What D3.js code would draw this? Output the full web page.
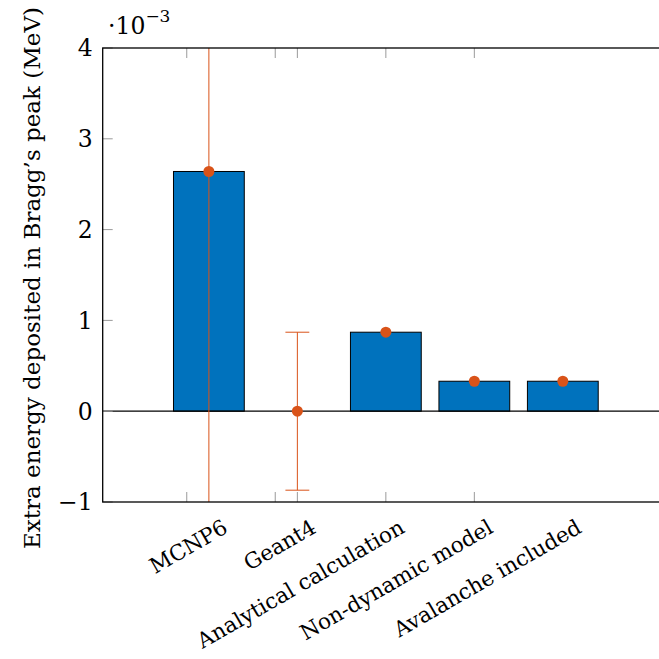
<!DOCTYPE html>
<html>
<head>
<meta charset="utf-8">
<script src="https://cdn.jsdelivr.net/npm/d3@7"></script>
<style>
  html, body { margin: 0; padding: 0; background: #fff; }
</style>
</head>
<body>
<svg id="chart" width="659" height="659"></svg>
<script>
// values are in units of 1e-3 MeV
var categories = ["MCNP6", "Geant4", "Analytical calculation", "Non-dynamic model", "Avalanche included"];
var values = [2.64, 0, 0.87, 0.33, 0.33];
var errors = [4.6, 0.87, 0, 0, 0];
var yTicks = [-1, 0, 1, 2, 3, 4];
var xTickPos = [0.75, 1.75, 2, 3, 4];

var svg = d3.select("#chart"),
    MARGINS = { top: 48, left: 102.7, bottom: 502, right: 669 },
    blue = "#0072bd",
    orange = "#d95319",
    serif = "DejaVu Serif",
    fs = 23.5,
    tickLen = 10;

var xScale = d3.scaleLinear().domain([-0.2, 6.2]).range([MARGINS.left, MARGINS.right]);
var yScale = d3.scaleLinear().domain([-1, 4]).range([MARGINS.bottom, MARGINS.top]);
var barW = xScale(0.8) - xScale(0);

svg.append("clipPath").attr("id", "plotClip")
  .append("rect")
  .attr("x", MARGINS.left).attr("y", MARGINS.top)
  .attr("width", MARGINS.right - MARGINS.left)
  .attr("height", MARGINS.bottom - MARGINS.top);

// bars
svg.append("g").selectAll("rect")
  .data(values)
  .enter()
  .append("rect")
  .attr("x", function(d, i) { return xScale(i + 1) - barW / 2; })
  .attr("y", function(d) { return yScale(Math.max(d, 0)); })
  .attr("width", barW)
  .attr("height", function(d) { return Math.abs(yScale(d) - yScale(0)); })
  .attr("fill", blue)
  .attr("stroke", "#000")
  .attr("stroke-width", 1)
  .style("display", function(d) { return d === 0 ? "none" : null; });

// zero line
svg.append("line")
  .attr("x1", MARGINS.left).attr("x2", MARGINS.right)
  .attr("y1", yScale(0)).attr("y2", yScale(0))
  .attr("stroke", "#000").attr("stroke-width", 1.2);

// error bars
var errG = svg.append("g").attr("clip-path", "url(#plotClip)");
var capW = xScale(0.135) - xScale(0);
values.forEach(function(v, i) {
  if (!errors[i]) return;
  var cx = xScale(i + 1);
  errG.append("line")
    .attr("x1", cx).attr("x2", cx)
    .attr("y1", yScale(v + errors[i])).attr("y2", yScale(v - errors[i]))
    .attr("stroke", orange).attr("stroke-width", 1);
  [v + errors[i], v - errors[i]].forEach(function(e) {
    errG.append("line")
      .attr("x1", cx - capW).attr("x2", cx + capW)
      .attr("y1", yScale(e)).attr("y2", yScale(e))
      .attr("stroke", orange).attr("stroke-width", 1);
  });
});

// markers
svg.append("g").selectAll("circle")
  .data(values)
  .enter()
  .append("circle")
  .attr("cx", function(d, i) { return xScale(i + 1); })
  .attr("cy", function(d) { return yScale(d); })
  .attr("r", 5.5)
  .attr("fill", orange);

// ticks (inside, both sides)
var tickG = svg.append("g").attr("stroke", "#9a9a9a").attr("stroke-width", 1);
yTicks.forEach(function(t) {
  tickG.append("line").attr("x1", MARGINS.left).attr("x2", MARGINS.left + tickLen)
    .attr("y1", yScale(t)).attr("y2", yScale(t));
  tickG.append("line").attr("x1", MARGINS.right - tickLen).attr("x2", MARGINS.right)
    .attr("y1", yScale(t)).attr("y2", yScale(t));
});
xTickPos.forEach(function(t) {
  tickG.append("line").attr("x1", xScale(t)).attr("x2", xScale(t))
    .attr("y1", MARGINS.bottom).attr("y2", MARGINS.bottom - tickLen);
  tickG.append("line").attr("x1", xScale(t)).attr("x2", xScale(t))
    .attr("y1", MARGINS.top).attr("y2", MARGINS.top + tickLen);
});

// frame
svg.append("rect")
  .attr("x", MARGINS.left).attr("y", MARGINS.top)
  .attr("width", MARGINS.right - MARGINS.left)
  .attr("height", MARGINS.bottom - MARGINS.top)
  .attr("fill", "none").attr("stroke", "#000").attr("stroke-width", 1.3);

// y tick labels
svg.append("g").selectAll("text")
  .data(yTicks)
  .enter()
  .append("text")
  .attr("x", MARGINS.left - 10)
  .attr("y", function(d) { return yScale(d); })
  .attr("dy", "0.36em")
  .attr("text-anchor", "end")
  .attr("font-family", serif)
  .attr("font-size", fs)
  .text(function(d) { return d < 0 ? "\u2212" + Math.abs(d) : d; });

// x labels, rotated
svg.append("g").selectAll("text")
  .data(categories)
  .enter()
  .append("text")
  .attr("transform", function(d, i) { return "translate(" + (xScale(i + 1) + 17) + "," + 526 + ") rotate(-30)"; })
  .attr("text-anchor", "end")
  .attr("dy", "0.3em")
  .attr("font-family", serif)
  .attr("font-size", 21.5)
  .text(function(d) { return d; });

// y axis title
svg.append("text")
  .attr("transform", "translate(40," + 278 + ") rotate(-90)")
  .attr("text-anchor", "middle")
  .attr("font-family", serif)
  .attr("font-size", 23)
  .text("Extra energy deposited in Bragg\u2019s peak (MeV)");

// scale factor
var sf = svg.append("text").attr("x", 108).attr("y", 34)
  .attr("font-family", serif).attr("font-size", fs);
sf.append("tspan").text("\u00b710");
sf.append("tspan").attr("dy", -12).attr("font-size", 17).text("\u22123");
</script>
</body>
</html>
